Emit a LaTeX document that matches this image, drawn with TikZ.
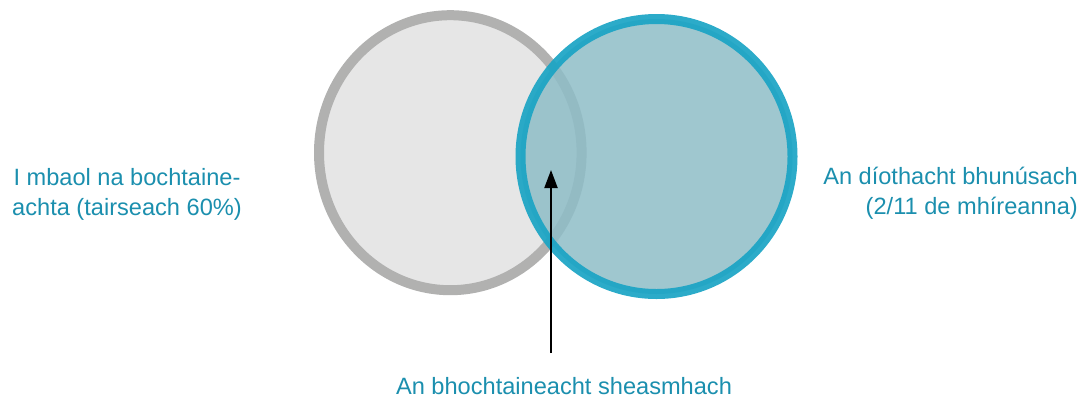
\documentclass[tikz,border=0pt]{standalone}
\usepackage{fontspec}
\setmainfont{Liberation Sans}
\usetikzlibrary{arrows.meta}
\definecolor{txtteal}{HTML}{1B8FAE}
\definecolor{ringgray}{HTML}{B1B1B0}
\definecolor{fillgray}{HTML}{E6E6E6}
\definecolor{ringteal}{HTML}{1AA4C4}
\definecolor{fillteal}{HTML}{8EBDC7}
\tikzset{
  lbl/.style={text=txtteal, font=\fontsize{23.6}{30}\selectfont, inner sep=0pt},
  graycirc/.style={draw=ringgray, line width=10pt, fill=fillgray},
  tealcirc/.style={draw=ringteal, line width=10pt, fill=fillteal, fill opacity=0.85, draw opacity=0.92},
  pointer/.style={line width=2pt, -{Triangle[length=18pt,width=13pt]}}
}
\begin{document}
\begin{tikzpicture}[x=1pt,y=-1pt]
\useasboundingbox (0,0) rectangle (1089,397);
\draw[graycirc] (450.3,152.7) ellipse [x radius=131.3, y radius=137.5];
\draw[tealcirc] (656.5,156.5) ellipse [x radius=136, y radius=137.5];
\node[lbl, align=center, anchor=base] (left) at (127,215) {I mbaol na bochtaine-\\achta (tairseach 60\%)};
\node[lbl, align=right, anchor=base east] (right) at (1078,214) {An díothacht bhunúsach\\(2/11 de mhíreanna)};
\node[lbl, anchor=base] (bottom) at (564,394) {An bhochtaineacht sheasmhach};
\coordinate (tail) at (551,353);
\coordinate (tip) at (551,170);
\draw[pointer] (tail) -- (tip);
\end{tikzpicture}
\end{document}
